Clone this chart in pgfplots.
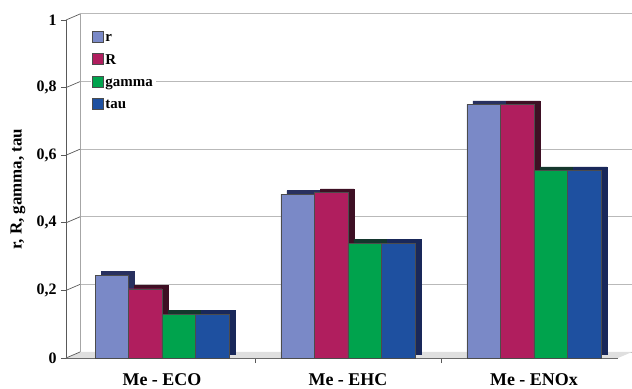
\documentclass[border=0pt]{standalone}
\usepackage{pgfplots}
\usepackage{pgfplotstable}
\pgfplotsset{compat=1.18}
\usepackage{fontspec}
\setmainfont{Liberation Serif}

\definecolor{rcol}{RGB}{122,137,199}
\definecolor{Rcol}{RGB}{176,30,94}
\definecolor{gcol}{RGB}{0,163,77}
\definecolor{tcol}{RGB}{30,80,160}
\definecolor{rdep}{RGB}{40,48,95}
\definecolor{Rdep}{RGB}{62,16,36}
\definecolor{gdep}{RGB}{20,55,45}
\definecolor{tdep}{RGB}{25,40,90}

% coefficients per system
\pgfplotstableread{
cat   r      R      gamma  tau
0     0.245  0.205  0.130  0.130
1     0.485  0.490  0.340  0.340
2     0.750  0.750  0.555  0.555
}\coeffs

\begin{document}
\begin{tikzpicture}
\useasboundingbox (-66bp,-31bp) rectangle (566bp,358bp);
\begin{axis}[
  at={(0,0)}, anchor=south west,
  scale only axis,
  width=552bp, height=338bp,
  xmin=-0.516, xmax=2.452,
  ymin=0, ymax=1,
  ybar,
  bar width=0.18,
  axis x line*=bottom,
  axis y line*=left,
  axis line style={gray!70!black, line width=0.8pt},
  xtick={0.5,1.5,2.5},
  xticklabels={},
  extra x ticks={0,1,2},
  extra x tick labels={Me - ECO, Me - EHC, Me - ENOx},
  extra x tick style={major tick length=0pt},
  xticklabel style={font=\bfseries\fontsize{18}{18}\selectfont, anchor=center, yshift=-22bp},
  ytick={0,0.2,0.4,0.6,0.8,1},
  yticklabel style={font=\bfseries\fontsize{16}{16}\selectfont, xshift=-1bp,
    /pgf/number format/use comma,
    /pgf/number format/assume math mode=true},
  tick align=outside,
  major tick length=5bp,
  tick style={gray!70!black, line width=0.7pt},
  ymajorgrids,
  major grid style={gray!55, line width=1pt, xshift=14bp, yshift=6bp},
  ylabel={r, R, gamma, tau},
  every axis y label/.style={at={(axis description cs:0,0.5)}, xshift=-48bp,
    rotate=90, anchor=center, font=\bfseries\fontsize{17}{17}\selectfont},
  legend style={at={(0.045,0.97)}, anchor=north west, draw=none, fill=white,
    font=\bfseries\fontsize{15}{15}\selectfont, row sep=8bp,
    inner xsep=1bp, inner ysep=1bp},
  legend cell align=left,
  legend image code/.code={\draw[#1, draw=black!70, line width=0.4pt] (0bp,-4bp) rectangle (11bp,7bp);},
  clip=false,
]
% floor and back wall
\fill[gray!25] (rel axis cs:0,0) -- ++(14bp,6bp) -- ([xshift=14bp,yshift=6bp]rel axis cs:1,0) -- (rel axis cs:1,0) -- cycle;
\draw[gray!70, line width=0.8pt] ([xshift=14bp,yshift=6bp]rel axis cs:0,0) -- ([xshift=14bp,yshift=6bp]rel axis cs:0,1);
\pgfplotsinvokeforeach{0,0.2,0.4,0.6,0.8,1}{
  \draw[gray!70!black, line width=0.7pt] (rel axis cs:0,#1) -- ++(14bp,6bp);
}
% depth faces
\addplot[forget plot, fill=rdep, draw=rdep, bar shift=-0.27, xshift=6bp, yshift=3.5bp] table[x=cat, y=r] {\coeffs};
\addplot[forget plot, fill=Rdep, draw=Rdep, bar shift=-0.09, xshift=6bp, yshift=3.5bp] table[x=cat, y=R] {\coeffs};
\addplot[forget plot, fill=gdep, draw=gdep, bar shift=0.09, xshift=6bp, yshift=3.5bp] table[x=cat, y=gamma] {\coeffs};
\addplot[forget plot, fill=tdep, draw=tdep, bar shift=0.27, xshift=6bp, yshift=3.5bp] table[x=cat, y=tau] {\coeffs};
% front faces
\addplot[fill=rcol, draw=black!70, line width=0.4pt, bar shift=-0.27] table[x=cat, y=r] {\coeffs};
\addplot[fill=Rcol, draw=black!70, line width=0.4pt, bar shift=-0.09] table[x=cat, y=R] {\coeffs};
\addplot[fill=gcol, draw=black!70, line width=0.4pt, bar shift=0.09] table[x=cat, y=gamma] {\coeffs};
\addplot[fill=tcol, draw=black!70, line width=0.4pt, bar shift=0.27] table[x=cat, y=tau] {\coeffs};
\legend{r, R, gamma, tau}
\end{axis}
\end{tikzpicture}
\end{document}
